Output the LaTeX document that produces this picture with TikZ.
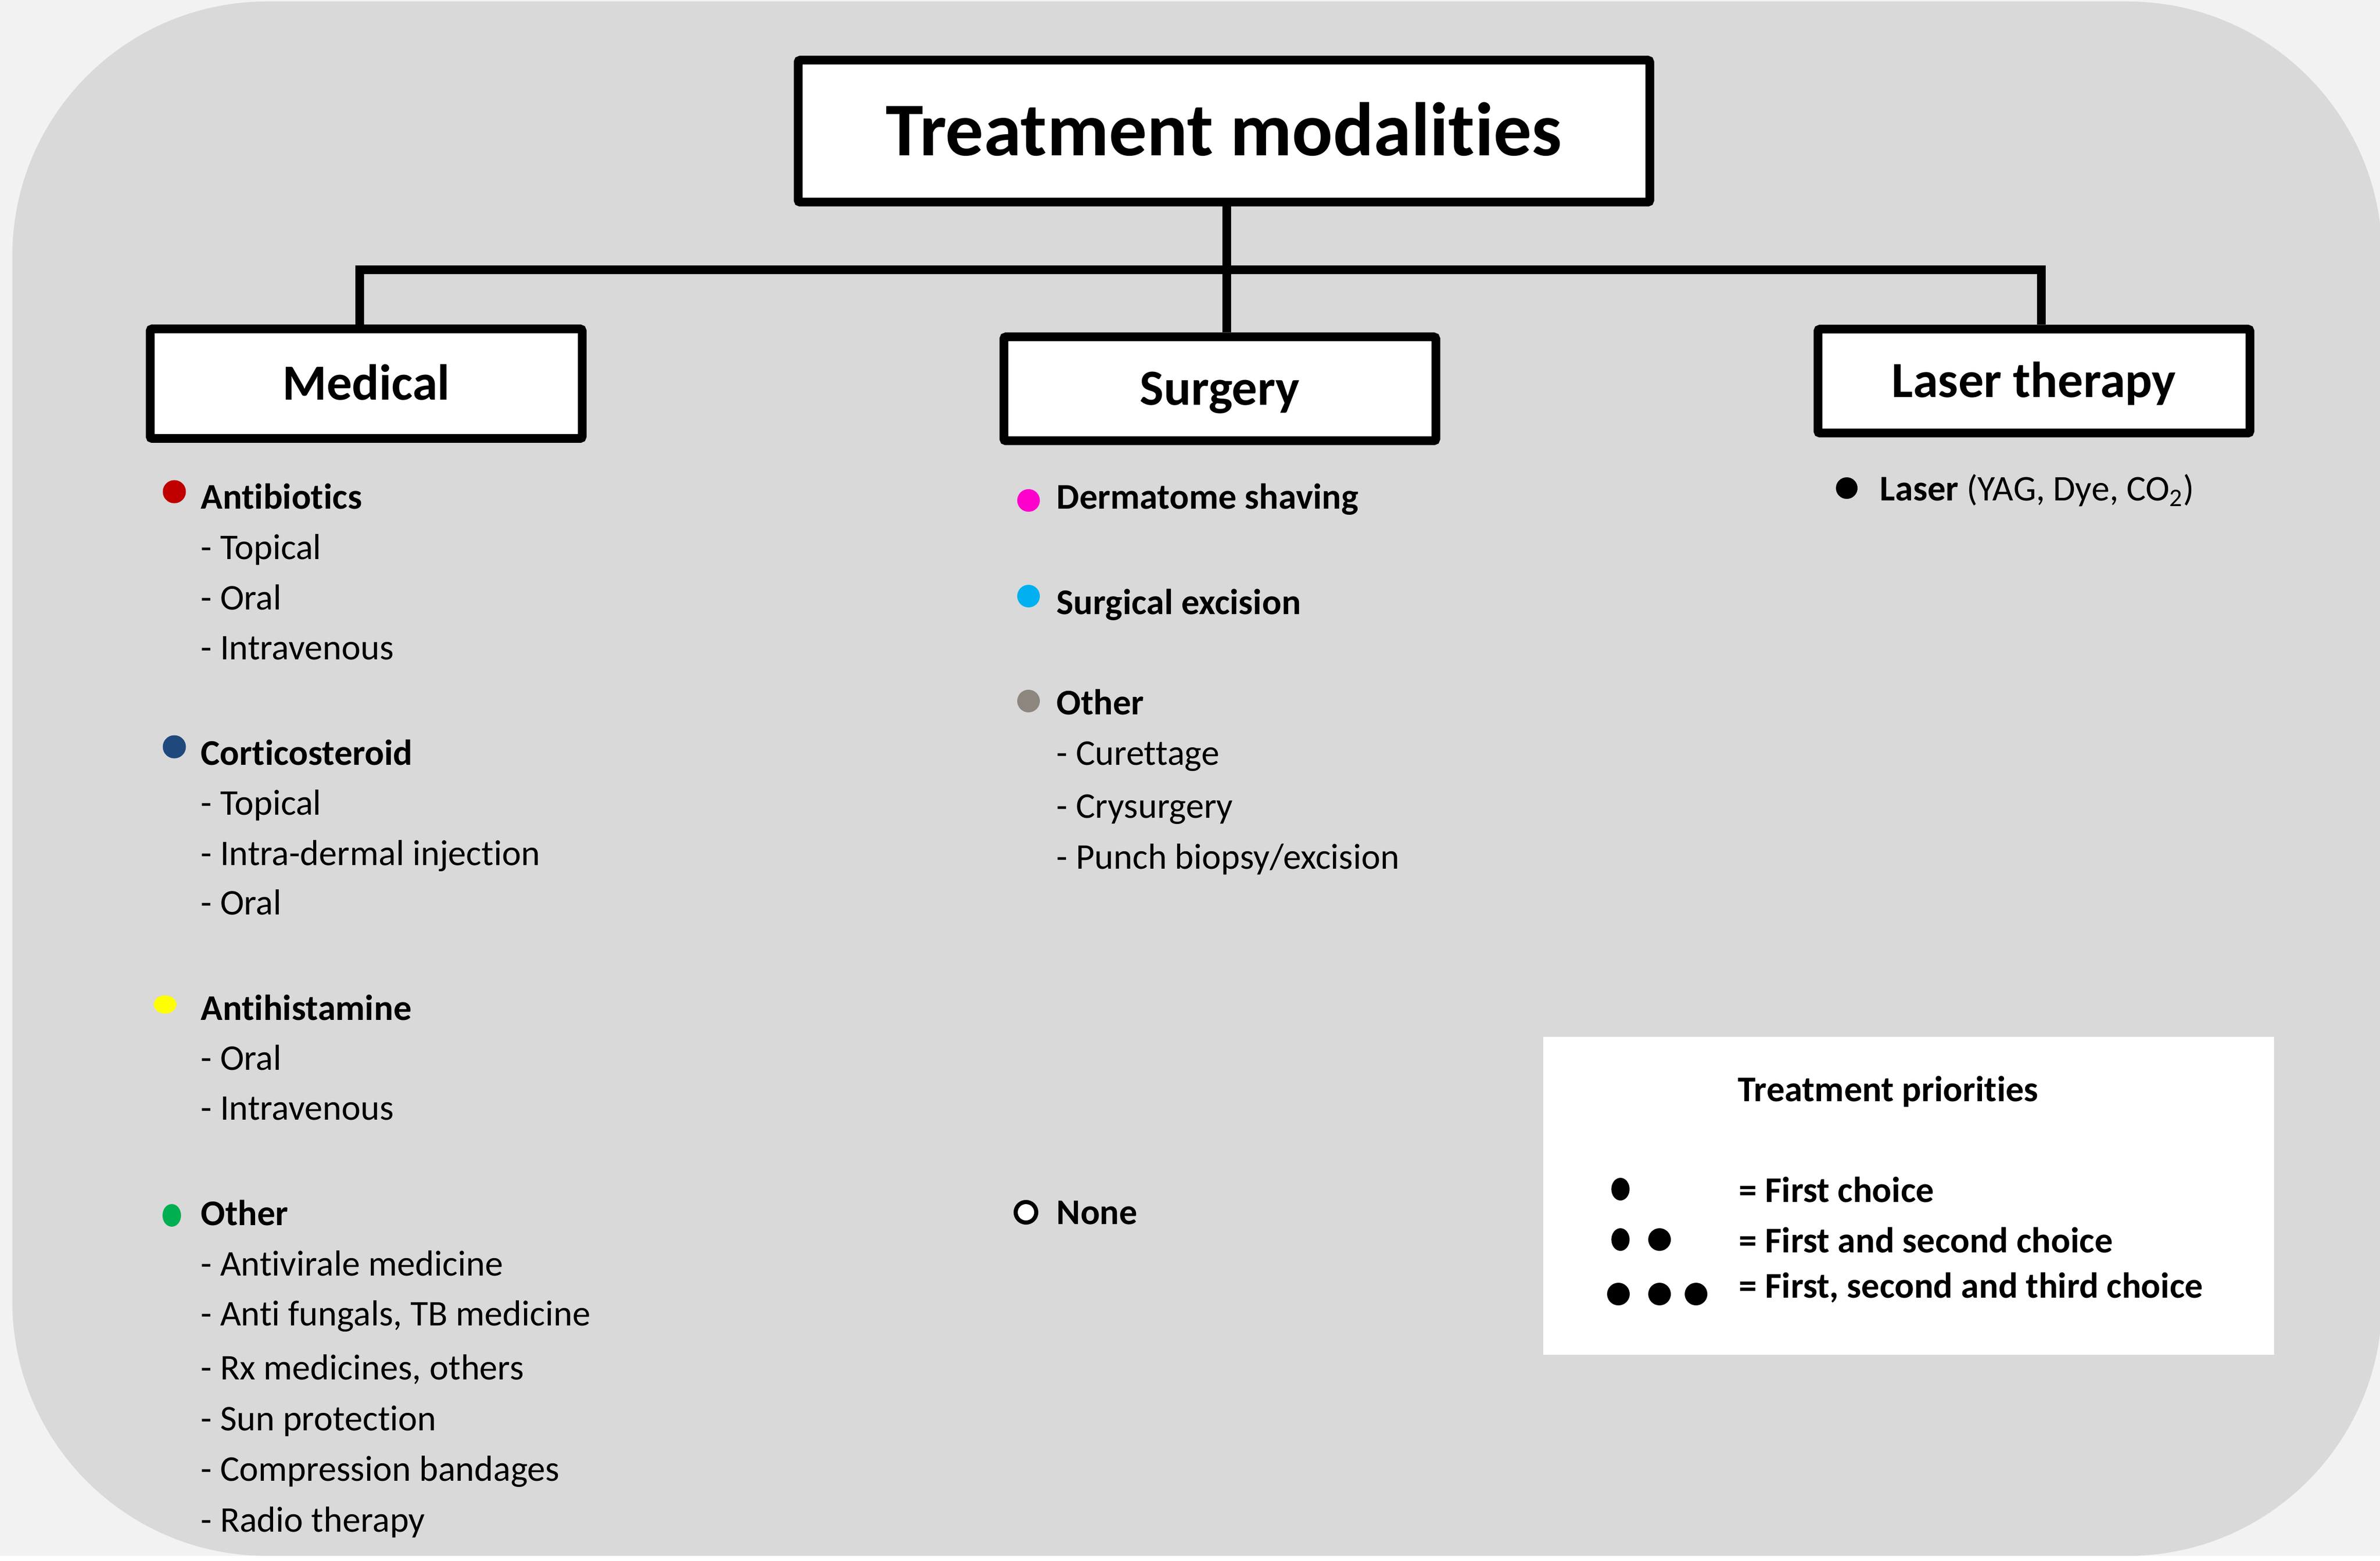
\documentclass[tikz,border=0pt]{standalone}
\usepackage{fontspec}
\setmainfont{Carlito}[Ligatures=CommonOff]

\definecolor{pagebg}{HTML}{F2F2F2}
\definecolor{panel}{HTML}{D9D9D9}
\definecolor{abxred}{HTML}{C00000}
\definecolor{cortblue}{HTML}{1F497D}
\definecolor{histyellow}{HTML}{FFFF00}
\definecolor{othgreen}{HTML}{00B050}
\definecolor{dermpink}{HTML}{FF00CC}
\definecolor{excblue}{HTML}{00B0F0}
\definecolor{othgray}{HTML}{8C867F}

\newcommand{\titlesize}{\fontsize{42}{50}\selectfont}
\newcommand{\boxsize}{\fontsize{28}{34}\selectfont}
\newcommand{\itemsize}{\fontsize{20}{24}\selectfont}

\begin{document}
\begin{tikzpicture}[modality/.style={rectangle,draw,fill=white,line width=0.17cm,rounded corners=0.04cm,
                      minimum width=8.4cm,minimum height=2.02cm,inner sep=0pt,
                      text height=18pt,text depth=0pt,font=\boxsize\bfseries},
                    head/.style={anchor=base west,inner sep=0pt,font=\itemsize\bfseries},
                    sub/.style={anchor=base west,inner sep=0pt,font=\itemsize},
                    link/.style={line width=0.17cm}]
\useasboundingbox (0,0) rectangle (46.28,-30.35);
\fill[pagebg] (0,0) rectangle (46.28,-30.35);
\fill[white] (0,-30.25) rectangle (46.28,-30.35);
\fill[panel, rounded corners=4.95cm] (0.24,-0.03) rectangle (46.32,-30.25);

\draw (23.80,-2.55) node[modality,minimum width=16.56cm,minimum height=2.76cm,text height=27pt,
      font=\titlesize\bfseries] (title) {Treatment modalities};
\draw (7.12,-7.46) node[modality,minimum height=2.13cm] (med) {Medical}
      (23.72,-7.56) node[modality] (surg) {Surgery}
      (39.55,-7.41) node[modality] (laser) {Laser therapy};

\coordinate (bus) at (23.85,-5.25);
\draw[link] (bus |- title.south) -- (bus |- surg.north);
\draw[link] ([xshift=-0.13cm]med.north) |- (bus) -| ([xshift=0.14cm]laser.north);

% medical
\fill[abxred] (3.39,-9.56) circle (0.225);
\fill[cortblue] (3.39,-14.52) circle (0.225);
\fill[histyellow] (3.21,-19.53) ellipse (0.22 and 0.177);
\fill[othgreen] (3.34,-23.63) ellipse (0.18 and 0.22);
\draw (3.90,-9.90) node[head] (abx) {Antibiotics}
      (3.90,-10.88) node[sub] (abx1) {- Topical}
      (3.90,-11.85) node[sub] (abx2) {- Oral}
      (3.90,-12.82) node[sub] (abx3) {- Intravenous};
\draw (3.90,-14.87) node[head] (cort) {Corticosteroid}
      (3.90,-15.84) node[sub] (cort1) {- Topical}
      (3.90,-16.82) node[sub] (cort2) {- Intra-dermal injection}
      (3.90,-17.78) node[sub] (cort3) {- Oral};
\draw (3.90,-19.83) node[head] (hist) {Antihistamine}
      (3.90,-20.80) node[sub] (hist1) {- Oral}
      (3.90,-21.77) node[sub] (hist2) {- Intravenous};
\draw (3.90,-23.82) node[head] (medoth) {Other}
      (3.90,-24.80) node[sub] (medoth1) {- Antivirale medicine}
      (3.90,-25.77) node[sub] (medoth2) {- Anti fungals, TB medicine}
      (3.90,-26.82) node[sub] (medoth3) {- Rx medicines, others}
      (3.90,-27.81) node[sub] (medoth4) {- Sun protection}
      (3.90,-28.79) node[sub] (medoth5) {- Compression bandages}
      (3.90,-29.78) node[sub] (medoth6) {- Radio therapy};

% surgery
\fill[dermpink] (20.00,-9.73) circle (0.22);
\fill[excblue] (20.00,-11.59) circle (0.22);
\fill[othgray] (20.00,-13.63) circle (0.22);
\draw[fill=white, line width=0.08cm] (19.95,-23.57) circle (0.20);
\draw (20.54,-9.90) node[head] (derm) {Dermatome shaving}
      (20.54,-11.94) node[head] (exc) {Surgical excision}
      (20.54,-13.89) node[head] (suroth) {Other}
      (20.54,-14.87) node[sub] (suroth1) {- Curettage}
      (20.54,-15.90) node[sub] (suroth2) {- Crysurgery}
      (20.54,-16.89) node[sub] (suroth3) {- Punch biopsy/excision}
      (20.54,-23.80) node[head] (none) {None};

% laser
\fill (35.91,-9.49) circle (0.21);
\draw (36.55,-9.74) node[head] (las) {Laser \mdseries(YAG, Dye, CO\textsubscript{2})};

% legend
\fill[white] (30.01,-20.16) rectangle (44.22,-26.34);
\fill (31.51,-23.12) ellipse (0.177 and 0.22);
\fill (31.51,-24.10) ellipse (0.177 and 0.22) (32.27,-24.10) circle (0.22);
\fill (31.47,-25.16) circle (0.22) (32.27,-25.16) circle (0.22) (32.98,-25.16) circle (0.22);
\draw (33.79,-21.41) node[head] (prio) {Treatment priorities}
      (33.81,-23.37) node[head] (prio1) {= First choice}
      (33.81,-24.35) node[head] (prio2) {= First and second choice}
      (33.81,-25.23) node[head] (prio3) {= First, second and third choice};
\end{tikzpicture}
\end{document}
